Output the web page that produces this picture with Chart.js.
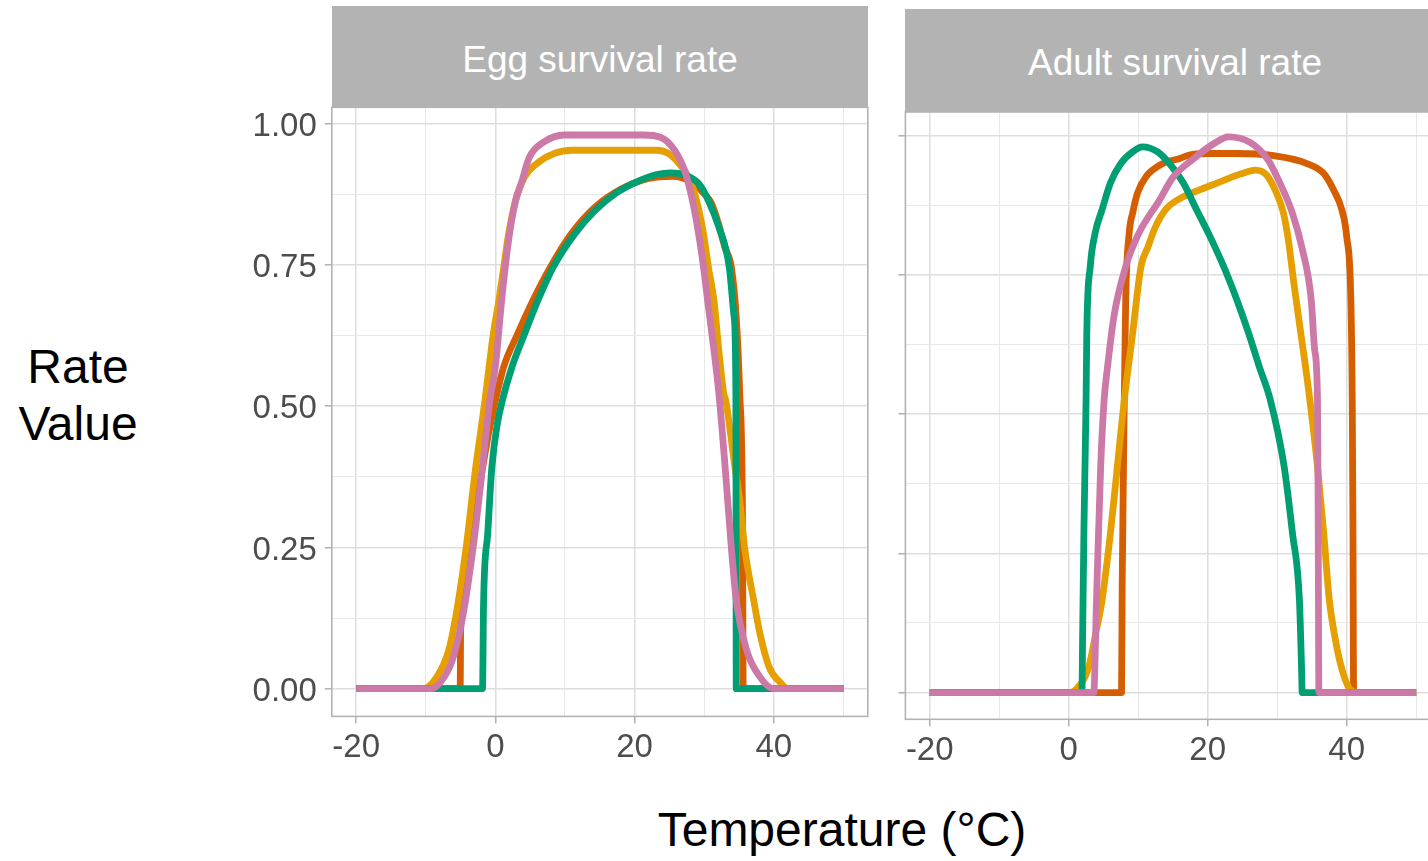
<!DOCTYPE html>
<html>
<head>
<meta charset="utf-8">
<script src="https://cdn.jsdelivr.net/npm/chart.js@4.4.1/dist/chart.umd.min.js"></script>
<style>
html,body{margin:0;padding:0;background:#fff;width:1428px;height:861px;overflow:hidden;position:relative;font-family:"Liberation Sans",Arial,sans-serif;}
canvas{position:absolute;}
.strip{position:absolute;background:#b3b3b3;color:#fff;font-size:37px;display:flex;align-items:center;justify-content:center;z-index:2;box-sizing:border-box;padding-top:5px;}
.title{position:absolute;color:#000;font-size:48px;text-align:center;z-index:2;}
</style>
</head>
<body>
<canvas id="egg" width="655" height="720" style="left:222px;top:67px;"></canvas>
<canvas id="adult" width="606" height="720" style="left:845px;top:72px;"></canvas>
<div class="strip" style="left:332px;top:6px;width:536px;height:102px;">Egg survival rate</div>
<div class="strip" style="left:905px;top:9px;width:540px;height:103px;">Adult survival rate</div>
<div class="title" style="left:0;top:338px;width:156px;line-height:57px;">Rate<br>Value</div>
<div class="title" style="left:542px;top:802px;width:600px;line-height:56px;">Temperature (°C)</div>
<script>
// ---- data (temperature in °C, rate value) ----
const seriesColors = ['#D55E00', '#E69F00', '#009E73', '#CC79A7'];
const xTickLabels = [-20, 0, 20, 40];
const yTickLabels = [0, 0.25, 0.5, 0.75, 1];

// Egg survival rate panel
const eggRedX = [-20,-5.05,-5.0,-4.0,-3.0,-2.0,-1.0,0,1.2,3.2,5.4,7.9,10.9,14.3,18,22,25.5,28,30,31,32,33,33.9,34.6,35.1,35.5,35.6,50];
const eggRedY = [0,0,0.1,0.22,0.31,0.38,0.45,0.51,0.57,0.628,0.687,0.746,0.805,0.852,0.884,0.903,0.907,0.898,0.876,0.86,0.825,0.78,0.746,0.658,0.523,0.3,0,0];
const eggOrangeX = [-20,-10.4,-8.4,-6.7,-5.7,-4.2,-3.0,-1.5,-0.9,-0.3,0.5,1.2,1.9,2.9,4.2,5.9,8.4,11,23.2,24.9,26.2,27.7,28.9,29.9,30.6,31.4,32.1,32.8,33.1,34.4,35.1,35.8,37.1,38.0,39.3,41,42,50];
const eggOrangeY = [0,0,0.021,0.068,0.127,0.25,0.375,0.51,0.57,0.628,0.687,0.746,0.805,0.864,0.906,0.929,0.947,0.953,0.953,0.947,0.932,0.906,0.864,0.805,0.746,0.687,0.599,0.523,0.51,0.393,0.334,0.25,0.157,0.098,0.039,0.01,0,0];
const eggGreenX = [-20,-1.85,-1.7,-1.1,-0.5,0.3,1.0,2.4,4.2,6.1,8.3,11.4,14.3,17.2,20.3,23.2,25.2,27.2,29.2,30.6,32.1,33.6,34.3,34.55,34.6,50];
const eggGreenY = [0,0,0.15,0.275,0.393,0.47,0.51,0.57,0.628,0.687,0.746,0.805,0.846,0.876,0.897,0.910,0.913,0.909,0.894,0.864,0.817,0.746,0.658,0.52,0,0];
const eggPinkX = [-20,-9.3,-8,-6.2,-4.7,-3.2,-2.0,-0.8,0,0.9,1.9,2.9,3.7,4.9,6.9,9.9,21.2,23.7,25.2,26.2,27.2,28.2,29.2,29.9,30.6,31.4,32.1,33.0,33.9,34.6,36.1,38.0,40,50];
const eggPinkY = [0,0,0.01,0.05,0.127,0.25,0.375,0.51,0.57,0.687,0.794,0.864,0.894,0.941,0.967,0.98,0.98,0.976,0.962,0.944,0.917,0.870,0.805,0.746,0.676,0.599,0.523,0.393,0.249,0.157,0.068,0.021,0,0];

// Adult survival rate panel
const adultRedX = [-20,7.6,7.7,8.0,8.2,8.7,9.2,9.9,11.1,13.1,14.1,16.0,17.0,19.9,24.2,29.5,34.3,36.7,38.1,39.3,40.0,40.6,40.8,40.9,41.0,50];
const adultRedY = [0,0,0.2,0.526,0.705,0.825,0.861,0.897,0.926,0.947,0.953,0.959,0.964,0.968,0.968,0.964,0.950,0.932,0.903,0.867,0.819,0.705,0.526,0.3,0,0];
const adultOrangeX = [-20,0,1.0,2.9,3.9,4.8,6.0,7.0,8.0,9.2,10.4,11.4,12.4,14.0,16.0,18.9,21.8,24.7,26.9,28.5,29.9,30.9,31.6,32.4,33.4,34.4,35.8,36.7,37.5,38.2,39.2,40.4,41.5,50];
const adultOrangeY = [0,0,0.005,0.047,0.107,0.166,0.286,0.406,0.526,0.645,0.765,0.8,0.834,0.868,0.887,0.903,0.917,0.931,0.938,0.929,0.897,0.861,0.813,0.735,0.645,0.555,0.406,0.286,0.166,0.107,0.047,0.007,0,0];
const adultGreenX = [-20,1.9,2.0,2.2,2.5,2.6,3.1,3.8,4.8,6.0,7.5,9.2,10.6,12.8,14.5,16.5,18.4,20.1,22.3,24.2,25.9,27.4,29.0,31.0,32.2,33.2,33.5,33.6,50];
const adultGreenY = [0,0,0.1,0.3,0.526,0.645,0.765,0.825,0.867,0.915,0.95,0.971,0.98,0.971,0.95,0.915,0.867,0.825,0.765,0.705,0.645,0.586,0.526,0.406,0.286,0.166,0.047,0,0];
const adultPinkX = [-20,3.6,4.0,4.6,5.1,5.6,6.5,8.2,10.1,13.1,15.0,17.9,20.8,23.0,26.1,28.6,30.2,32.1,33.6,34.9,35.4,35.8,35.9,36.0,50];
const adultPinkY = [0,0,0.166,0.406,0.526,0.586,0.675,0.765,0.825,0.885,0.925,0.958,0.985,0.998,0.988,0.958,0.92,0.864,0.797,0.705,0.615,0.526,0.3,0,0];

// ---- helpers ----
function pts(xs, ys) { return xs.map((x, i) => ({x: x, y: ys[i]})); }
function ds(xs, ys, color, order) {
  return {data: pts(xs, ys), borderColor: color, backgroundColor: color, borderWidth: 6.8,
          pointRadius: 0, fill: false, cubicInterpolationMode: 'monotone', order: order,
          borderJoinStyle: 'round', borderCapStyle: 'butt'};
}
const isMajorX = v => xTickLabels.some(t => Math.abs(t - v) < 1e-6);
const isMajorY = v => yTickLabels.some(t => Math.abs(t - v) < 1e-6);

const panelBorder = {
  id: 'panelBorder',
  afterDatasetsDraw(chart) {
    const {ctx, chartArea: a} = chart;
    ctx.save();
    ctx.strokeStyle = '#b3b3b3';
    ctx.lineWidth = 1.6;
    ctx.strokeRect(a.left, a.top, a.right - a.left, a.bottom - a.top);
    ctx.restore();
  }
};

Chart.defaults.font.family = '"Liberation Sans", Arial, sans-serif';

function makeChart(id, sets, cfg) {
  return new Chart(document.getElementById(id), {
    type: 'line',
    data: {datasets: sets},
    plugins: [panelBorder],
    options: {
      responsive: false, animation: false, devicePixelRatio: 1,
      layout: {padding: cfg.padding},
      plugins: {legend: {display: false}, tooltip: {enabled: false}},
      scales: {
        x: {
          type: 'linear', min: -23.5, max: 53.5,
          afterFit: s => { s.height = cfg.xHeight; },
          border: {display: false},
          grid: {
            color: c => isMajorX(c.tick.value) ? '#dedede' : '#e8e8e8',
            lineWidth: c => isMajorX(c.tick.value) ? 1.5 : 1,
            tickColor: c => isMajorX(c.tick.value) ? '#b3b3b3' : 'rgba(0,0,0,0)',
            tickWidth: 1.6, tickLength: 7
          },
          ticks: {
            stepSize: 10, includeBounds: false, autoSkip: false, maxRotation: 0,
            padding: 5, color: '#4d4d4d', font: {size: 33},
            callback: v => isMajorX(v) ? String(v) : ''
          }
        },
        y: {
          type: 'linear', min: cfg.yMin, max: cfg.yMax,
          afterFit: s => { s.width = cfg.yWidth; },
          border: {display: false},
          grid: {
            color: c => isMajorY(c.tick.value) ? '#dedede' : '#e8e8e8',
            lineWidth: c => isMajorY(c.tick.value) ? 1.5 : 1,
            tickColor: c => isMajorY(c.tick.value) ? '#b3b3b3' : 'rgba(0,0,0,0)',
            tickWidth: 1.6, tickLength: 7
          },
          ticks: {
            stepSize: 0.125, includeBounds: false, autoSkip: false,
            padding: 8, labelOffset: 3, color: '#4d4d4d', font: {size: 33},
            callback: v => (cfg.yLabels && isMajorY(v)) ? v.toFixed(2) : ''
          }
        }
      }
    }
  });
}

makeChart('egg', [
  ds(eggRedX, eggRedY, seriesColors[0], 4),
  ds(eggOrangeX, eggOrangeY, seriesColors[1], 3),
  ds(eggGreenX, eggGreenY, seriesColors[2], 2),
  ds(eggPinkX, eggPinkY, seriesColors[3], 1)
], {padding: {top: 40.3, left: 0, right: 9.2, bottom: 0}, xHeight: 70.6, yWidth: 109.8,
    yMin: -0.049, yMax: 1.029, yLabels: true});

makeChart('adult', [
  ds(adultRedX, adultRedY, seriesColors[0], 4),
  ds(adultOrangeX, adultOrangeY, seriesColors[1], 3),
  ds(adultGreenX, adultGreenY, seriesColors[2], 2),
  ds(adultPinkX, adultPinkY, seriesColors[3], 1)
], {padding: {top: 40, left: 0, right: 10.5, bottom: 0}, xHeight: 72.7, yWidth: 60.4,
    yMin: -0.048, yMax: 1.0425, yLabels: false});
</script>
</body>
</html>
